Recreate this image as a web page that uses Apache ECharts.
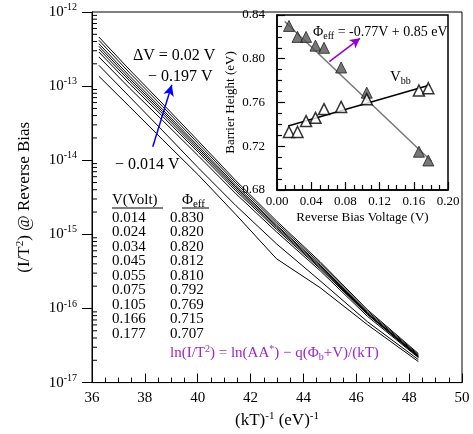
<!DOCTYPE html>
<html><head><meta charset="utf-8">
<script src="https://cdn.jsdelivr.net/npm/echarts@6/dist/echarts.min.js"></script>
<style>html,body{margin:0;padding:0;background:#fff}#c{width:473px;height:434px}</style>
</head><body><div id="c"></div>
<script>
// main plot: x = (kT)^-1 in (eV)^-1
const invKT = [36.26, 37.43, 38.68, 40.02, 41.45, 42.98, 44.63, 46.42, 48.35];
// I/T^2 curves, bottom (0.014 V) to top
const curve014 = [1.36e-13, 5.25e-14, 1.88e-14, 6.35e-15, 1.84e-15, 4.69e-16, 1.91e-16, 6.05e-17, 1.92e-17];
const curve024 = [1.91e-13, 7.14e-14, 2.49e-14, 7.91e-15, 2.43e-15, 7.46e-16, 2.37e-16, 6.64e-17, 2.04e-17];
const curve034 = [2.48e-13, 9.33e-14, 3.42e-14, 1.15e-14, 3.52e-15, 1.08e-15, 3.24e-16, 7.85e-17, 2.17e-17];
const curve045 = [2.89e-13, 1.07e-13, 3.88e-14, 1.28e-14, 3.85e-15, 1.17e-15, 3.44e-16, 8.30e-17, 2.21e-17];
const curve055 = [3.17e-13, 1.17e-13, 4.20e-14, 1.37e-14, 4.10e-15, 1.23e-15, 3.57e-16, 8.41e-17, 2.24e-17];
const curve075 = [3.45e-13, 1.26e-13, 4.51e-14, 1.46e-14, 4.33e-15, 1.29e-15, 3.71e-16, 8.61e-17, 2.28e-17];
const curve105 = [3.74e-13, 1.36e-13, 4.81e-14, 1.55e-14, 4.56e-15, 1.34e-15, 3.85e-16, 8.83e-17, 2.31e-17];
const curve166 = [4.16e-13, 1.50e-13, 5.27e-14, 1.68e-14, 4.91e-15, 1.43e-15, 4.06e-16, 9.23e-17, 2.38e-17];
const curve177 = [4.60e-13, 1.65e-13, 5.75e-14, 1.82e-14, 5.27e-15, 1.52e-15, 4.28e-16, 9.64e-17, 2.46e-17];
const curves = [curve014, curve024, curve034, curve045, curve055, curve075, curve105, curve166, curve177];

// inset: barrier heights
const voltages = [0.014, 0.024, 0.034, 0.045, 0.055, 0.075, 0.105, 0.166, 0.177];
const phiEff = [0.830, 0.820, 0.820, 0.812, 0.810, 0.792, 0.769, 0.715, 0.707];
const vbb = [0.733, 0.733, 0.743, 0.746, 0.754, 0.756, 0.763, 0.771, 0.773];
const phiFit = [[0.009, 0.834], [0.181, 0.706]];
const vbbFit = [[0.013, 0.7385], [0.179, 0.776]];

// minor log ticks (2..9 per decade)
const logMinorTicks = [];
for (let e = -17; e < -12; e++) for (let m = 2; m <= 9; m++) logMinorTicks.push(m * Math.pow(10, e));

const SERIF = 'Liberation Serif';
const PURPLE = '#9b27c9';

const chart = echarts.init(document.getElementById('c'), null, {renderer: 'canvas'});

const supRich = {
  a: {fontFamily: SERIF, fontSize: 15, color: '#000'},
  s: {fontFamily: SERIF, fontSize: 10, color: '#000', padding: [0, 0, 9, 0]}
};

const mainSeries = curves.map((c, i) => ({
  name: 'V' + voltages[i],
  type: 'line',
  xAxisIndex: 0, yAxisIndex: 0,
  data: invKT.map((x, j) => [x, c[j]]),
  showSymbol: false, symbol: 'none',
  lineStyle: {color: '#000', width: 1},
  z: 2, silent: true
}));

const option = {
  animation: false,
  backgroundColor: '#fff',
  grid: [
    {left: 92, right: 11, top: 12, bottom: 51, show: true, borderColor: '#000', borderWidth: 1, backgroundColor: 'transparent'},
    {left: 277, right: 25, top: 15, bottom: 244, show: true, borderColor: '#000', borderWidth: 1.5, backgroundColor: 'transparent'}
  ],
  xAxis: [
    {
      type: 'value', gridIndex: 0, min: 36, max: 50, interval: 2,
      axisLine: {show: true, lineStyle: {color: '#000', width: 1}},
      axisTick: {show: true, inside: true, length: 9, lineStyle: {color: '#000'}},
      minorTick: {show: true, splitNumber: 4, length: 5, lineStyle: {color: '#000'}},
      splitLine: {show: false},
      axisLabel: {fontFamily: SERIF, fontSize: 15, color: '#000', margin: 8},
      name: '(kT){s|-1} (eV){s|-1}', nameLocation: 'middle', nameGap: 22,
      nameTextStyle: {fontFamily: SERIF, fontSize: 17, color: '#000', rich: {s: {fontFamily: SERIF, fontSize: 11, color: '#000', padding: [0, 0, 9, 0]}}}
    },
    {
      type: 'value', gridIndex: 1, min: 0, max: 0.2, interval: 0.04,
      axisLine: {show: true, lineStyle: {color: '#000', width: 1.5}},
      axisTick: {show: true, inside: true, length: 8, lineStyle: {color: '#000', width: 1.2}},
      minorTick: {show: true, splitNumber: 4, length: 5, lineStyle: {color: '#000', width: 1.2}},
      splitLine: {show: false},
      axisLabel: {fontFamily: SERIF, fontSize: 13, color: '#000', margin: 5, formatter: v => v.toFixed(2)},
      name: 'Reverse Bias Voltage (V)', nameLocation: 'middle', nameGap: 21,
      nameTextStyle: {fontFamily: SERIF, fontSize: 13, color: '#000'}
    }
  ],
  yAxis: [
    {
      type: 'log', gridIndex: 0, logBase: 10, min: 1e-17, max: 1e-12, splitNumber: 5,
      axisLine: {show: true, lineStyle: {color: '#000', width: 1}},
      axisTick: {show: true, inside: false, length: 10, lineStyle: {color: '#000'}},
      minorTick: {show: false},
      splitLine: {show: false},
      axisLabel: {
        margin: 15, color: '#000',
        formatter: v => '{a|10}{s|' + Math.round(Math.log10(v)) + '}',
        rich: supRich
      },
      name: '(I/T{s|2}) @ Reverse Bias', nameLocation: 'middle', nameGap: 57,
      nameTextStyle: {fontFamily: SERIF, fontSize: 17, color: '#000', rich: {s: {fontFamily: SERIF, fontSize: 11, color: '#000', padding: [0, 0, 9, 0]}}}
    },
    {
      type: 'value', gridIndex: 1, min: 0.68, max: 0.84, interval: 0.04,
      axisLine: {show: true, lineStyle: {color: '#000', width: 1.5}},
      axisTick: {show: true, inside: true, length: 8, lineStyle: {color: '#000', width: 1.2}},
      minorTick: {show: true, splitNumber: 4, length: 5, lineStyle: {color: '#000', width: 1.2}},
      splitLine: {show: false},
      axisLabel: {fontFamily: SERIF, fontSize: 13, color: '#000', margin: 12, formatter: v => v.toFixed(2)},
      name: 'Barrier Height (eV)', nameLocation: 'middle', nameGap: 40,
      nameTextStyle: {fontFamily: SERIF, fontSize: 13, color: '#000'}
    }
  ],
  series: [
    ...mainSeries,
    {
      type: 'custom', xAxisIndex: 0, yAxisIndex: 0, silent: true, clip: false,
      data: logMinorTicks.map(v => [36, v]),
      renderItem: (params, api) => {
        const p = api.coord([api.value(0), api.value(1)]);
        return {type: 'line', shape: {x1: p[0], y1: p[1], x2: p[0] + 5, y2: p[1]}, style: {stroke: '#000', lineWidth: 1}};
      }
    },
    {
      type: 'line', xAxisIndex: 0, yAxisIndex: 0, data: [], silent: true,
      markLine: {
        silent: true, symbol: ['none', 'arrow'], symbolSize: [8, 11],
        label: {show: false},
        lineStyle: {color: '#0000ff', width: 1.5, type: 'solid'},
        data: [[{coord: [38.30, 1.52e-14]}, {coord: [39.02, 1.04e-13]}]]
      }
    },
    {
      type: 'line', xAxisIndex: 1, yAxisIndex: 1, data: phiFit, symbol: 'none', silent: true,
      lineStyle: {color: '#777', width: 1.5}, z: 3
    },
    {
      type: 'line', xAxisIndex: 1, yAxisIndex: 1, data: vbbFit, symbol: 'none', silent: true,
      lineStyle: {color: '#000', width: 1.5}, z: 3
    },
    {
      type: 'scatter', xAxisIndex: 1, yAxisIndex: 1, symbol: 'triangle', symbolSize: 11, silent: true,
      data: voltages.map((v, i) => [v, phiEff[i]]),
      itemStyle: {color: '#555', borderColor: '#222', borderWidth: 1}, z: 4
    },
    {
      type: 'scatter', xAxisIndex: 1, yAxisIndex: 1, symbol: 'triangle', symbolSize: 11, silent: true,
      data: voltages.map((v, i) => [v, vbb[i]]),
      itemStyle: {color: '#fff', borderColor: '#000', borderWidth: 1.5}, z: 4
    },
    {
      type: 'line', xAxisIndex: 1, yAxisIndex: 1, data: [], silent: true,
      markLine: {
        silent: true, symbol: ['none', 'arrow'], symbolSize: [8, 10],
        label: {show: false},
        lineStyle: {color: '#9400d3', width: 1.5, type: 'solid'},
        data: [[{coord: [0.0612, 0.7973]}, {coord: [0.0971, 0.8187]}]]
      }
    }
  ],
  graphic: []
};

const txt = (x, y, text, size, color, rich) => ({
  type: 'text', x: x, y: y, silent: true, z: 10,
  style: {text: text, fontFamily: SERIF, fontSize: size, fill: color || '#000', verticalAlign: 'middle', align: 'left', rich: rich || {}}
});
const subRich = (size, color) => ({sub: {fontFamily: SERIF, fontSize: size, fill: color || '#000', color: color || '#000', padding: [8, 0, 0, 0]}});
const g = [];
g.push(txt(133, 56, 'ΔV = 0.02 V', 16));
g.push(txt(148, 77, '− 0.197 V', 16));
g.push(txt(115, 165, '− 0.014 V', 16));
g.push(txt(112, 200, 'V(Volt)', 15));
g.push(txt(182, 200, 'Φ{sub|eff}', 15, '#000', subRich(11)));
g.push({type: 'line', silent: true, shape: {x1: 112, y1: 208, x2: 163, y2: 208}, style: {stroke: '#000', lineWidth: 1}});
g.push({type: 'line', silent: true, shape: {x1: 182, y1: 208, x2: 209, y2: 208}, style: {stroke: '#000', lineWidth: 1}});
voltages.forEach((v, i) => {
  g.push(txt(112, 218 + i * 14.5, v.toFixed(3), 15));
  g.push(txt(170, 218 + i * 14.5, phiEff[i].toFixed(3), 15));
});
g.push(txt(170, 353, 'ln(I/T{sup|2}) = ln(AA{sup|*}) − q(Φ{sub|b}+V)/(kT)', 15, PURPLE, {
  sup: {fontFamily: SERIF, fontSize: 10, fill: PURPLE, color: PURPLE, padding: [0, 0, 8, 0]},
  sub: {fontFamily: SERIF, fontSize: 10, fill: PURPLE, color: PURPLE, padding: [8, 0, 0, 0]}
}));
g.push(txt(313, 32, 'Φ{sub|eff} = -0.77V + 0.85 eV', 14, '#000', subRich(10)));
g.push(txt(390, 77, 'V{sub|bb}', 15, '#000', subRich(10)));
option.graphic = g;

chart.setOption(option);
</script>
</body></html>
